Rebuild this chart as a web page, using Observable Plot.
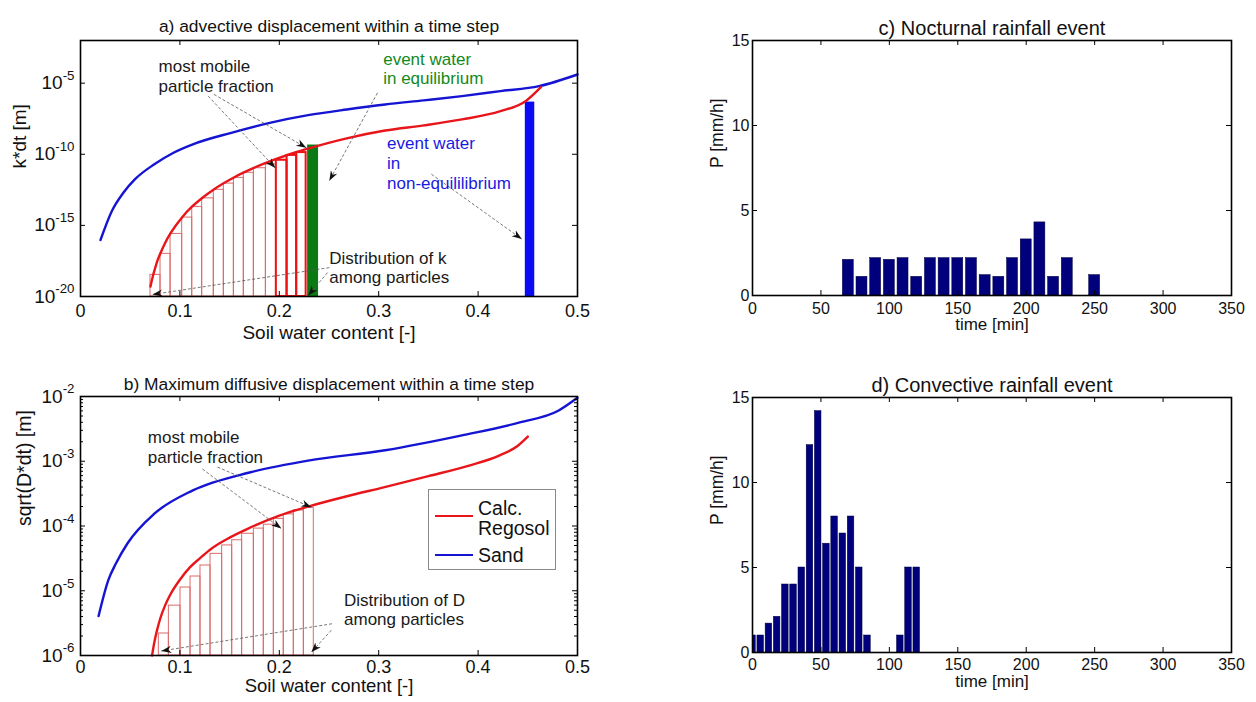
<!DOCTYPE html>
<html><head><meta charset="utf-8">
<script src="https://cdn.jsdelivr.net/npm/d3@7"></script>
<script src="https://cdn.jsdelivr.net/npm/@observablehq/plot@0.6"></script>
<style>
body{margin:0;background:#fff;font-family:"Liberation Sans",Arial,sans-serif}
#root{position:relative;width:1256px;height:702px;overflow:hidden;background:#fff}
.panel{position:absolute}
.legend{position:absolute;border:1px solid #8a8a8a;background:#fff;font-size:19.5px;color:#111}
.legend .ln{position:absolute;height:0}
.legend .lb{position:absolute;line-height:20px;white-space:nowrap}
</style></head><body><div id="root"></div>
<script>
// ---------------- data ----------------
// panel a: k*dt (log10 values) vs soil water content
const aSandX = [0.0201,0.0317,0.0433,0.0549,0.0743,0.0936,0.113,0.1517,0.1904,0.229,0.2678,0.3065,0.3452,0.3838,0.4225,0.4613,0.5];
const aSandE = [-16.03,-13.97,-12.69,-11.75,-10.70,-9.89,-9.30,-8.49,-7.79,-7.25,-6.85,-6.50,-6.21,-5.91,-5.56,-5.21,-4.39];
const aRegX = [0.0704,0.0715,0.073,0.075,0.0775,0.0805,0.085,0.0906,0.1023,0.1124,0.1224,0.1341,0.1543,0.1744,0.197,0.2175,0.229,0.2678,0.3065,0.3452,0.3838,0.4225,0.4477,0.4632];
const aRegE = [-19.30,-18.95,-18.52,-18.03,-17.46,-16.94,-16.25,-15.55,-14.42,-13.67,-13.07,-12.47,-11.63,-10.96,-10.33,-9.84,-9.6,-8.88,-8.33,-7.97,-7.55,-6.97,-6.27,-5.28];
const aBinEdges = [0.0704,0.0805,0.0906,0.1023,0.1124,0.1224,0.1341,0.1442,0.1543,0.1643,0.1744,0.1865,0.197,0.2078,0.2175,0.227];
const aBinTopE = [-18.48,-17.0,-15.6,-14.45,-13.7,-13.1,-12.5,-12.06,-11.66,-11.3,-10.98,-10.72,-10.42,-10.08,-9.88];
const aMostMobileCount = 3;
const aEqBar = {x1: 0.2285, x2: 0.2395, e: -9.35};
const aNeqBar = {x1: 0.4475, x2: 0.457, e: -6.33};
const aNotes = [
  {x: 0.0785, e: -3.81, text: "most mobile", kind: "k"},
  {x: 0.0785, e: -5.21, text: "particle fraction", kind: "k"},
  {x: 0.3045, e: -3.32, text: "event water", kind: "g"},
  {x: 0.3045, e: -4.65, text: "in equilibrium", kind: "g"},
  {x: 0.3084, e: -9.28, text: "event water", kind: "b"},
  {x: 0.3084, e: -10.68, text: "in", kind: "b"},
  {x: 0.3084, e: -12.08, text: "non-equililibrium", kind: "b"},
  {x: 0.2503, e: -17.34, text: "Distribution of k", kind: "k"},
  {x: 0.2503, e: -18.67, text: "among particles", kind: "k"}
];
const aArrows = [
  {x1: 0.1285, e1: -5.91, x2: 0.196, e2: -10.96},
  {x1: 0.1343, e1: -5.79, x2: 0.2271, e2: -9.54},
  {x1: 0.2988, e1: -5.68, x2: 0.2503, e2: -11.87},
  {x1: 0.353, e1: -11.4, x2: 0.4439, e2: -15.96},
  {x1: 0.2503, e1: -17.97, x2: 0.0724, e2: -19.86},
  {x1: 0.2485, e1: -18.32, x2: 0.229, e2: -19.93}
];
const aYTicks = [1e-20, 1e-15, 1e-10, 1e-5];
const aYDomain = [1e-20, 1e-2];

// panel b: sqrt(D*dt)
const bSandX = [0.0182,0.0279,0.0356,0.0472,0.0743,0.113,0.171,0.229,0.3065,0.3838,0.4419,0.4806,0.4999];
const bSandE = [-5.39,-4.84,-4.58,-4.27,-3.81,-3.45,-3.17,-2.99,-2.83,-2.60,-2.40,-2.22,-2.02];
const bRegX = [0.072,0.0735,0.075,0.0775,0.08,0.085,0.09,0.1,0.11,0.12,0.13,0.15,0.17,0.2,0.229,0.268,0.306,0.35,0.39,0.42,0.44,0.45];
const bRegE = [-6.0,-5.86,-5.74,-5.58,-5.44,-5.23,-5.07,-4.83,-4.64,-4.50,-4.37,-4.18,-4.03,-3.84,-3.70,-3.54,-3.40,-3.23,-3.07,-2.92,-2.76,-2.62];
const bBinEdges = [0.0788,0.0889,0.1006,0.1107,0.1207,0.1308,0.1425,0.1526,0.1626,0.1744,0.1844,0.1945,0.2045,0.2146,0.2247,0.2347];
const bBinTopE = [-5.66,-5.23,-4.95,-4.78,-4.61,-4.43,-4.30,-4.22,-4.12,-4.04,-3.98,-3.89,-3.82,-3.76,-3.72];
const bNotes = [
  {x: 0.0677, e: -2.64, text: "most mobile"},
  {x: 0.0677, e: -2.94, text: "particle fraction"},
  {x: 0.2651, e: -5.15, text: "Distribution of D"},
  {x: 0.2651, e: -5.45, text: "among particles"}
];
const bArrows = [
  {x1: 0.1227, e1: -3.12, x2: 0.202, e2: -4.04},
  {x1: 0.1378, e1: -3.09, x2: 0.2322, e2: -3.71},
  {x1: 0.253, e1: -5.51, x2: 0.0813, e2: -5.93},
  {x1: 0.2523, e1: -5.61, x2: 0.2322, e2: -5.95}
];
const bYTicks = [1e-6, 1e-5, 1e-4, 1e-3, 1e-2];
const bYDomain = [1e-6, 1e-2];
const waterTicks = [0, 0.1, 0.2, 0.3, 0.4, 0.5];

// panel c: nocturnal rainfall (10-min steps)
const cTime = [70,80,90,100,110,120,130,140,150,160,170,180,190,200,210,220,230,250];
const cP = [2.1,1.1,2.2,2.1,2.2,1.1,2.2,2.2,2.2,2.2,1.2,1.1,2.2,3.3,4.3,1.1,2.2,1.2];
// panel d: convective rainfall (6-min steps)
const dTime = [0,6,12,18,24,30,36,42,48,54,60,66,72,78,84,108,114,120];
const dP = [1.0,1.0,1.7,2.1,4.0,4.0,5.0,12.2,14.2,6.4,8.0,7.0,8.0,5.0,1.0,1.0,5.0,5.0];
const timeTicks = [0,50,100,150,200,250,300,350];
const pTicks = [0,5,10,15];

const titles = {
  a: "a) advective displacement within a time step",
  b: "b) Maximum diffusive displacement within a time step",
  c: "c) Nocturnal rainfall event",
  d: "d) Convective rainfall event"
};
const legendItems = [{label: ["Calc.", "Regosol"], color: "red"}, {label: ["Sand"], color: "blue"}];

// ---------------- styles ----------------
const FONT = '"Liberation Sans", Arial, Helvetica, sans-serif';
const RED = "#e8161b", BLUE = "#1414d2", NAVY = "#00007c", GREEN = "#0b7a14", BRIGHTBLUE = "#0a0af5";
const BARLINE = "#db6a6a";
const NOTE_COLORS = {k: "#1a1a1a", g: "#138a1c", b: "#1a1ae0"};

const root = document.getElementById("root");
const SVGNS = "http://www.w3.org/2000/svg";

function finish(svg) {
  svg.querySelectorAll("text").forEach(t => {
    const m = /^10\^(-?\d+)$/.exec(t.textContent);
    if (m) {
      t.textContent = "10";
      const ts = document.createElementNS(SVGNS, "tspan");
      ts.setAttribute("dy", "-0.7em");
      ts.setAttribute("font-size", "0.7em");
      ts.textContent = m[1];
      t.appendChild(ts);
    }
  });
  svg.querySelectorAll("marker").forEach(mk => {
    mk.setAttribute("viewBox", "-10 -5 10 10");
    mk.setAttribute("markerUnits", "userSpaceOnUse");
    mk.setAttribute("markerWidth", "10");
    mk.setAttribute("markerHeight", "10");
    mk.setAttribute("fill", "#111");
    mk.setAttribute("stroke", "none");
    const p = mk.querySelector("path");
    if (p) { p.setAttribute("d", "M-10,-3.6L0,0L-10,3.6L-7,0Z"); p.setAttribute("fill", "#111"); p.setAttribute("stroke", "none"); }
  });
  return svg;
}

function place(el, left, top) {
  const d = document.createElement("div");
  d.className = "panel";
  d.style.left = left + "px"; d.style.top = top + "px";
  d.appendChild(el);
  root.appendChild(d);
}

function frameTicks(W, H, xT, yT, yMinor) {
  const s = {stroke: "black", strokeWidth: 1};
  const marks = [
    Plot.tickX(xT, {x: d => d, insetTop: H - 5, ...s}),
    Plot.tickX(xT, {x: d => d, insetBottom: H - 5, ...s}),
    Plot.tickY(yT, {y: d => d, insetRight: W - 5, ...s}),
    Plot.tickY(yT, {y: d => d, insetLeft: W - 5, ...s})
  ];
  if (yMinor) {
    marks.push(Plot.tickY(yMinor, {y: d => d, insetRight: W - 3, ...s}));
    marks.push(Plot.tickY(yMinor, {y: d => d, insetLeft: W - 3, ...s}));
  }
  return marks;
}

const expFmt = d => "10^" + Math.round(Math.log10(d));
const bins = (edges, tops) => tops.map((e, i) => ({x1: edges[i], x2: edges[i + 1], e, i}));
const curve = (xs, es) => xs.map((x, i) => ({x, y: 10 ** es[i]}));
const baseStyle = {fontFamily: FONT, background: "white", color: "#111", overflow: "visible"};

// ---------------- panel a ----------------
{
  const W = 600, H = 340, mL = 80, mR = 23, mT = 40, mB = 44;
  const fw = W - mL - mR, fh = H - mT - mB;
  const barsA = bins(aBinEdges, aBinTopE);
  const nThin = barsA.length - aMostMobileCount;
  const svg = Plot.plot({
    width: W, height: H, marginLeft: mL, marginRight: mR, marginTop: mT, marginBottom: mB,
    style: baseStyle,
    x: {domain: [0, 0.5]},
    y: {type: "log", domain: aYDomain},
    color: {type: "identity"},
    marks: [
      Plot.rect(barsA.slice(0, nThin), {x1: "x1", x2: "x2", y1: () => aYDomain[0], y2: d => 10 ** d.e, fill: "none", stroke: BARLINE, strokeWidth: 1}),
      Plot.rect(barsA.slice(nThin), {x1: "x1", x2: "x2", y1: () => aYDomain[0], y2: d => 10 ** d.e, fill: "none", stroke: "#f01010", strokeWidth: 2}),
      Plot.rect([aEqBar], {x1: "x1", x2: "x2", y1: () => aYDomain[0], y2: d => 10 ** d.e, fill: GREEN}),
      Plot.rect([aNeqBar], {x1: "x1", x2: "x2", y1: () => aYDomain[0], y2: d => 10 ** d.e, fill: BRIGHTBLUE}),
      Plot.line(curve(aSandX, aSandE), {x: "x", y: "y", stroke: BLUE, strokeWidth: 2.4, curve: "monotone-x"}),
      Plot.line(curve(aRegX, aRegE), {x: "x", y: "y", stroke: RED, strokeWidth: 2.4, curve: "monotone-x"}),
      Plot.link(aArrows, {x1: "x1", x2: "x2", y1: d => 10 ** d.e1, y2: d => 10 ** d.e2, stroke: "#555", strokeWidth: 0.8, strokeDasharray: "3,2", markerEnd: "arrow"}),
      Plot.text(aNotes, {x: "x", y: d => 10 ** d.e, text: "text", fill: d => NOTE_COLORS[d.kind], textAnchor: "start", fontSize: 17}),
      ...frameTicks(fw, fh, [0.1, 0.2, 0.3, 0.4], aYTicks.slice(1)),
      Plot.axisX({ticks: waterTicks, tickSize: 0, tickPadding: 8, tickFormat: d => String(d), fontSize: 18, label: null}),
      Plot.axisY({ticks: aYTicks, tickSize: 0, tickPadding: 6, tickFormat: expFmt, fontSize: 19, label: null}),
      Plot.frame({stroke: "black", strokeWidth: 1.6}),
      Plot.text([titles.a], {text: d => d, frameAnchor: "top", dy: -21, fontSize: 17.4}),
      Plot.text(["Soil water content [-]"], {text: d => d, frameAnchor: "bottom", dy: 42, fontSize: 19}),
      Plot.text(["k*dt [m]"], {text: d => d, frameAnchor: "left", dx: -61, rotate: -90, fontSize: 19})
    ]
  });
  place(finish(svg), 0, 0);
}

// ---------------- panel b ----------------
{
  const W = 600, H = 352, mL = 80, mR = 23, mT = 46, mB = 47;
  const fw = W - mL - mR, fh = H - mT - mB;
  const minor = [];
  for (let k = -6; k < -2; k++) for (let m = 2; m <= 9; m++) minor.push(m * 10 ** k);
  const svg = Plot.plot({
    width: W, height: H, marginLeft: mL, marginRight: mR, marginTop: mT, marginBottom: mB,
    style: baseStyle,
    x: {domain: [0, 0.5]},
    y: {type: "log", domain: bYDomain},
    marks: [
      Plot.rect(bins(bBinEdges, bBinTopE), {x1: "x1", x2: "x2", y1: () => bYDomain[0], y2: d => 10 ** d.e, fill: "none", stroke: BARLINE, strokeWidth: 1}),
      Plot.line(curve(bSandX, bSandE), {x: "x", y: "y", stroke: BLUE, strokeWidth: 2.4, curve: "monotone-x"}),
      Plot.line(curve(bRegX, bRegE), {x: "x", y: "y", stroke: RED, strokeWidth: 2.4, curve: "monotone-x"}),
      Plot.link(bArrows, {x1: "x1", x2: "x2", y1: d => 10 ** d.e1, y2: d => 10 ** d.e2, stroke: "#555", strokeWidth: 0.8, strokeDasharray: "3,2", markerEnd: "arrow"}),
      Plot.text(bNotes, {x: "x", y: d => 10 ** d.e, text: "text", fill: "#1a1a1a", textAnchor: "start", fontSize: 17}),
      ...frameTicks(fw, fh, [0.1, 0.2, 0.3, 0.4], bYTicks.slice(1, -1), minor),
      Plot.axisX({ticks: waterTicks, tickSize: 0, tickPadding: 5, tickFormat: d => String(d), fontSize: 18, label: null}),
      Plot.axisY({ticks: bYTicks, tickSize: 0, tickPadding: 6, tickFormat: expFmt, fontSize: 19, label: null}),
      Plot.frame({stroke: "black", strokeWidth: 1.6}),
      Plot.text([titles.b], {text: d => d, frameAnchor: "top", dy: -19, fontSize: 17.4}),
      Plot.text(["Soil water content [-]"], {text: d => d, frameAnchor: "bottom", dy: 36.5, fontSize: 18.5}),
      Plot.text(["sqrt(D*dt) [m]"], {text: d => d, frameAnchor: "left", dx: -56, rotate: -90, fontSize: 19.5})
    ]
  });
  place(finish(svg), 0, 350);
  const lg = document.createElement("div");
  lg.className = "legend";
  Object.assign(lg.style, {left: "428px", top: "489px", width: "126px", height: "79px"});
  const rows = [{line: 26, texts: [8, 28]}, {line: 65, texts: [55]}];
  legendItems.forEach((it, i) => {
    const ln = document.createElement("div");
    ln.className = "ln";
    Object.assign(ln.style, {left: "6px", width: "38px", top: (rows[i].line - 1) + "px", borderTop: "2.5px solid " + (it.color === "red" ? RED : BLUE)});
    lg.appendChild(ln);
    it.label.forEach((t, j) => {
      const s = document.createElement("div");
      s.className = "lb";
      s.textContent = t;
      Object.assign(s.style, {left: "49px", top: rows[i].texts[j] + "px"});
      lg.appendChild(s);
    });
  });
  root.appendChild(lg);
}

// ---------------- panels c & d ----------------
function rainPanel(times, values, barW, title, top, mT, H, tickPad, labelDy) {
  const W = 576, mL = 72, mR = 25, mB = H - mT - 255;
  const fw = W - mL - mR, fh = H - mT - mB;
  const data = times.map((t, i) => ({t, p: values[i]}));
  const svg = Plot.plot({
    width: W, height: H, marginLeft: mL, marginRight: mR, marginTop: mT, marginBottom: mB,
    style: baseStyle,
    x: {domain: [0, 350]},
    y: {domain: [0, 15]},
    marks: [
      Plot.rectY(data, {x1: d => d.t - barW / 2, x2: d => d.t + barW / 2, y: "p", fill: NAVY, stroke: "#000040", strokeWidth: 0.5, clip: true}),
      ...frameTicks(fw, fh, timeTicks.slice(1, -1), pTicks.slice(1, -1)),
      Plot.axisX({ticks: timeTicks, tickSize: 0, tickPadding: tickPad, tickFormat: d => String(d), fontSize: 16, label: null}),
      Plot.axisY({ticks: pTicks, tickSize: 0, tickPadding: 3, tickFormat: d => String(d), fontSize: 16, label: null}),
      Plot.frame({stroke: "black", strokeWidth: 1.6}),
      Plot.text([title], {text: d => d, frameAnchor: "top", dy: -20, fontSize: 20}),
      Plot.text(["time [min]"], {text: d => d, frameAnchor: "bottom", dy: labelDy, fontSize: 17}),
      Plot.text(["P [mm/h]"], {text: d => d, frameAnchor: "left", dx: -35, rotate: -90, fontSize: 17.5})
    ]
  });
  place(finish(svg), 680, top);
}
rainPanel(cTime, cP, 8, titles.c, 0, 40, 340, 7, 34);
rainPanel(dTime, dP, 4.8, titles.d, 350, 47, 352, 6, 34);
</script></body></html>
